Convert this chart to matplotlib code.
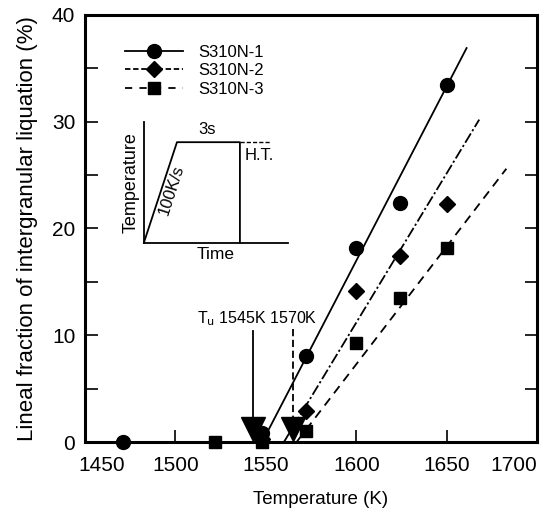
import matplotlib
matplotlib.use("Agg")
import matplotlib.pyplot as plt
from matplotlib.transforms import ScaledTranslation

plt.rcParams['font.family'] = ['Liberation Sans', 'DejaVu Sans']

# measured points
temp_1 = [1471, 1548, 1572, 1600, 1624, 1650]
frac_1 = [0.0, 0.8, 8.1, 18.2, 22.4, 33.4]
temp_2 = [1548, 1572, 1600, 1624, 1650]
frac_2 = [0.3, 2.9, 14.1, 17.4, 22.3]
temp_3 = [1522, 1548, 1572, 1600, 1624, 1650]
frac_3 = [0.0, 0.0, 1.0, 9.3, 13.5, 18.2]

# fitted lines (end points)
fit_t1 = [1548, 1661]
fit_f1 = [0.0, 36.9]
fit_t2 = [1560, 1668]
fit_f2 = [0.0, 30.2]
fit_t3 = [1567, 1683]
fit_f3 = [0.0, 25.6]

# Tu arrows
tu_temps = [1543, 1565]
tu_text = r"T$_\mathrm{u}$ 1545K 1570K"

# heat treatment schematic
ht_time = [0, 0.92, 2.67, 2.67]
ht_temp = [0, 1.0, 1.0, 0]
hold_time = [2.67, 3.5]
hold_temp = [1.0, 1.0]

fig = plt.figure(figsize=(5.45, 5.13), dpi=100)
ax = fig.add_axes([0.156, 0.1384, 0.8295, 0.8324])

ax.plot(fit_t1, fit_f1, color='black', lw=1.3, ls='-')
ax.plot(fit_t2, fit_f2, color='black', lw=1.3, ls=(0, (6, 1.5, 1.2, 1.5)))
ax.plot(fit_t3, fit_f3, color='black', lw=1.3, ls=(0, (5, 3.5)))

ax.plot(temp_1, frac_1, 'o', color='black', ms=10, clip_on=False, zorder=5)
ax.plot(temp_2, frac_2, 'D', color='black', ms=8.5, clip_on=False, zorder=5)
ax.plot(temp_3, frac_3, 's', color='black', ms=8, clip_on=False, zorder=5)

# arrows for Tu
ax.plot([tu_temps[0], tu_temps[0]], [10.4, 1.5], color='black', lw=1.3)
ax.plot([tu_temps[1], tu_temps[1]], [10.6, 1.5], color='black', lw=1.3, ls=(0, (4, 2)))
ax.plot(tu_temps, [1.2, 1.2], 'v', color='black', ms=17, ls='none', zorder=6)
ax.text(1512, 11.6, tu_text, fontsize=11.5, ha='left', va='center')

# legend
h1, = ax.plot([], [], marker='o', color='black', ms=10, lw=1.3, ls='-')
h2, = ax.plot([], [], marker='D', color='black', ms=8.5, lw=1.3, ls=(0, (3, 1.5)))
h3, = ax.plot([], [], marker='s', color='black', ms=8, lw=1.3, ls=(0, (4, 4)))
ax.legend([h1, h2, h3], ['S310N-1', 'S310N-2', 'S310N-3'], loc='upper left',
          bbox_to_anchor=(0.088, 0.93), frameon=False, fontsize=12,
          handlelength=3.5, handletextpad=0.9, labelspacing=0.2,
          borderpad=0, borderaxespad=0)

ax.set_xlim(1450, 1700)
ax.set_ylim(0, 40)
ax.set_xticks([1450, 1500, 1550, 1600, 1650, 1700])
ax.set_yticks([0, 10, 20, 30, 40])
ax.set_yticks([5, 15, 25, 35], minor=True)
ax.tick_params(axis='both', which='both', direction='in', width=1.2)
ax.tick_params(axis='x', length=9, pad=10, labelsize=15)
ax.tick_params(axis='y', which='both', length=9, right=True, pad=7, labelsize=15)
for sp in ax.spines.values():
    sp.set_linewidth(2.2)

# end labels sit inside the frame, as in the original figure
fig.canvas.draw()
xlabels = ax.get_xticklabels()
xlabels[0].set_transform(xlabels[0].get_transform() + ScaledTranslation(17 / 100, 0, fig.dpi_scale_trans))
xlabels[-1].set_transform(xlabels[-1].get_transform() + ScaledTranslation(-23 / 100, 0, fig.dpi_scale_trans))

ax.set_xlabel("Temperature (K)", fontsize=13.5, labelpad=12.5)
ax.xaxis.set_label_coords(0.522, -0.115, transform=ax.transAxes)
ax.set_ylabel("Lineal fraction of intergranular liquation (%)", fontsize=16, labelpad=10)

# inset: heat treatment cycle
ins = fig.add_axes([0.264, 0.527, 0.264, 0.235])
ins.plot(ht_time, ht_temp, color='black', lw=1.3, clip_on=False)
ins.plot(hold_time, hold_temp, color='black', lw=1.0, ls=(0, (3, 1.5)), clip_on=False)
ins.set_xlim(0, 4)
ins.set_ylim(0, 1.2)
ins.set_xticks([])
ins.set_yticks([])
ins.patch.set_alpha(0)
ins.spines['top'].set_visible(False)
ins.spines['right'].set_visible(False)
ins.spines['left'].set_linewidth(1.3)
ins.spines['bottom'].set_linewidth(1.3)
ins.set_xlabel("Time", fontsize=12.5, labelpad=3)
ins.set_ylabel("Temperature", fontsize=13, labelpad=3)
ins.text(1.75, 1.05, "3s", fontsize=12, ha='center', va='bottom')
ins.text(2.8, 0.87, "H.T.", fontsize=12, ha='left', va='center')
ins.text(0.78, 0.52, "100K/s", fontsize=12, ha='center', va='center', rotation=72)

fig.savefig("out.png", dpi=100)
